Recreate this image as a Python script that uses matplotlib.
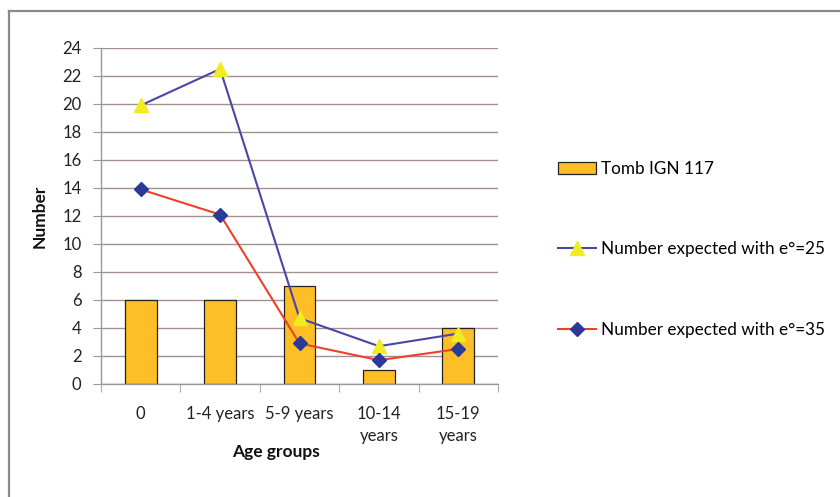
import matplotlib
matplotlib.use("Agg")
import matplotlib.pyplot as plt
from matplotlib.lines import Line2D
from matplotlib.patches import Patch
import numpy as np

categories = ["0", "1-4 years", "5-9 years", "10-14\nyears", "15-19\nyears"]
tomb = [6, 6, 7, 1, 4]
expected_25 = [19.9, 22.5, 4.7, 2.7, 3.6]
expected_35 = [13.9, 12.1, 2.9, 1.7, 2.5]
yticks = list(range(0, 25, 2))

plt.rcParams['font.family'] = ['Lato', 'DejaVu Sans']

fig = plt.figure(figsize=(8.4, 4.97), dpi=100)
fig.patch.set_facecolor('white')

# outer frame (top & left visible)
fig.add_artist(Line2D([9/840, 9/840], [0, 1 - 11/497], transform=fig.transFigure, color='#8a8a8a', lw=1.6))
fig.add_artist(Line2D([9/840, 1], [1 - 11/497, 1 - 11/497], transform=fig.transFigure, color='#8a8a8a', lw=1.6))

ax = fig.add_axes([101/840, 1 - 384/497, (498 - 101)/840, (384 - 48)/497])
x = np.arange(len(categories))

ax.set_axisbelow(True)
ax.yaxis.grid(True, color='#a48f8f', lw=1.0)
ax.bar(x, tomb, width=0.4, color='#FDBF25', edgecolor='#222222', lw=0.9, zorder=2)
ax.plot(x, expected_25, color='#4a46a8', lw=1.5, marker='^', markersize=10,
        markerfacecolor='#F0EC20', markeredgecolor='#F0EC20', zorder=3)
ax.plot(x, expected_35, color='#F0402A', lw=1.5, marker='D', markersize=7,
        markerfacecolor='#2B3A98', markeredgecolor='#2B3A98', zorder=4)

ax.set_xlim(-0.5, 4.5)
ax.set_ylim(0, 24)
ax.set_yticks(yticks)
ax.set_yticklabels([str(v) for v in yticks], fontsize=12, color='#222222')
ax.set_xticks(x)
ax.set_xticklabels(categories, fontsize=12, color='#222222', linespacing=1.45, va='top')
ax.tick_params(axis='x', which='major', length=0, pad=16)
ax.set_xticks(np.arange(-0.5, 5, 1), minor=True)
ax.tick_params(axis='x', which='minor', length=6, color='#999999', direction='out')
ax.tick_params(axis='y', length=6, color='#999999', direction='out', pad=8)

for s in ['top', 'right']:
    ax.spines[s].set_visible(False)
for s in ['left', 'bottom']:
    ax.spines[s].set_color('#999999')
    ax.spines[s].set_linewidth(1.0)

fig.text(276/840, 1 - 452/497, "Age groups", ha='center', va='center', fontsize=12.5, fontweight='bold', color='#111111')
fig.text(40/840, 1 - 216/497, "Number", ha='center', va='center', rotation=90, fontsize=12.5, fontweight='bold', color='#111111')

handles = [
    Patch(facecolor='#FDBF25', edgecolor='#222222', lw=0.9),
    Line2D([], [], color='#4a46a8', lw=1.5, marker='^', markersize=10, markerfacecolor='#F0EC20', markeredgecolor='#F0EC20'),
    Line2D([], [], color='#F0402A', lw=1.5, marker='D', markersize=7, markerfacecolor='#2B3A98', markeredgecolor='#2B3A98'),
]
labels = ["Tomb IGN 117", "Number expected with e\u00b0=25", "Number expected with e\u00b0=35"]
fig.legend(handles, labels, loc='upper left', bbox_to_anchor=(543/840, 1 - 146/497),
           frameon=False, fontsize=12.3, labelspacing=3.75, handlelength=2.2, handletextpad=0.3)

fig.savefig("out.png", dpi=100, facecolor='white')
